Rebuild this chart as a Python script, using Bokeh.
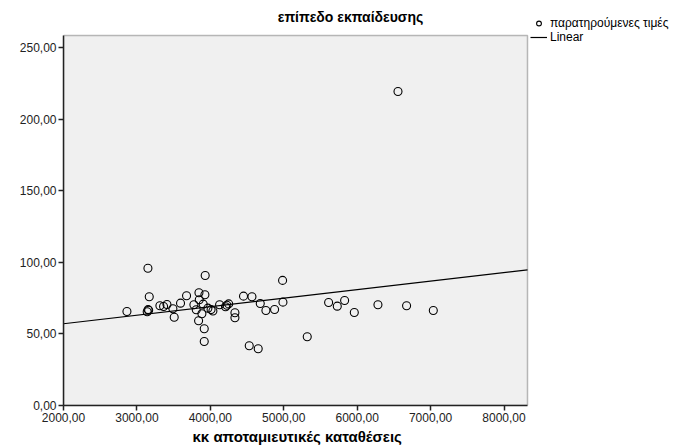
from bokeh.plotting import figure
from bokeh.models import (Range1d, FixedTicker, CustomJSTickFormatter, Legend,
                          LegendItem, BoxAnnotation, Label, Title)
from bokeh.embed import file_html
from bokeh.resources import INLINE

deposits = [2864, 3150, 3168, 3140, 3160, 3152, 3313, 3363, 3409, 3490,
            3508, 3594, 3676, 3776, 3808, 3845, 3849, 3903, 3930, 3926,
            3885, 3840, 3917, 3917, 3967, 4010, 4035, 4126, 4207, 4225,
            4250, 4335, 4335, 4452, 4567, 4530, 4652, 4680, 4757, 4875,
            4984, 4989, 5320, 5611, 5729, 5829, 5961, 6283, 6673, 7037,
            6556]
education = [65.7, 95.9, 76.0, 65.5, 66.5, 67.0, 69.7, 69.2, 70.6, 67.6,
             61.7, 71.5, 76.7, 70.4, 66.9, 78.8, 73.9, 70.8, 90.8, 77.4,
             64.1, 59.2, 53.6, 44.7, 68.0, 67.0, 66.0, 70.4, 69.0, 70.0,
             71.0, 64.8, 61.3, 76.4, 76.0, 41.7, 39.6, 71.3, 66.4, 67.1,
             87.4, 72.2, 48.0, 72.0, 69.4, 73.4, 65.0, 70.4, 69.7, 66.4,
             219.4]
# Linear fit line endpoints
fit_x = [2000, 8320]
fit_y = [57.1, 94.8]
x_ticks = [2000, 3000, 4000, 5000, 6000, 7000, 8000]
y_ticks = [0, 50, 100, 150, 200, 250]
# axis extents of the plotting box
x_lo, x_hi = 2000, 8320
y_lo, y_hi = 0, 258.5

FONT = "Liberation Sans"
W, H = 682, 447
BL, BB = 63, 42            # left / bottom borders (px)
BOX_W = 464                # plotting box width (px)
BOX_H = 370                # plotting box height (px)
FW, FH = W - BL, H - BB    # frame extends to canvas top/right (room for title & legend)

x_end = x_lo + (x_hi - x_lo) * FW / BOX_W
y_end = y_lo + (y_hi - y_lo) * FH / BOX_H

p = figure(width=W, height=H, output_backend="svg", toolbar_location=None,
           x_range=Range1d(x_lo, x_end), y_range=Range1d(y_lo, y_end),
           min_border_left=BL, min_border_right=0, min_border_top=0,
           min_border_bottom=BB)

p.background_fill_color = "white"
p.border_fill_color = "white"
p.outline_line_color = None
p.grid.visible = False

box = BoxAnnotation(left=x_lo, right=x_hi, bottom=y_lo, top=y_hi,
                    fill_color="#f0f0f0", fill_alpha=1.0,
                    line_color="#222222", line_width=1.5, level="underlay")
p.add_layout(box)

title = Label(x=350 - BL, y=FH - 16, x_units="screen", y_units="screen",
              text="επίπεδο εκπαίδευσης", text_align="center",
              text_baseline="middle", text_font=FONT, text_font_size="14px",
              text_font_style="bold", text_color="#000000")
p.add_layout(title)

fmt = CustomJSTickFormatter(code="return tick.toFixed(2).replace('.', ',');")
for ax, ticks, bnds in ((p.xaxis[0], x_ticks, (x_lo, x_hi)),
                        (p.yaxis[0], y_ticks, (y_lo, y_hi))):
    ax.ticker = FixedTicker(ticks=ticks)
    ax.formatter = fmt
    ax.bounds = bnds
    ax.axis_line_color = "#222222"
    ax.axis_line_width = 1.5
    ax.major_tick_line_color = "#222222"
    ax.major_tick_line_width = 1.5
    ax.major_tick_out = 5
    ax.major_tick_in = 0
    ax.minor_tick_line_color = None
    ax.major_label_text_font = FONT
    ax.major_label_text_font_size = "12px"
    ax.major_label_text_color = "#222222"
    ax.major_label_standoff = 2

xlabel = Title(text="κκ αποταμιευτικές καταθέσεις", align="left", offset=129,
               text_font=FONT, text_font_size="15px", text_font_style="bold",
               text_color="#000000", standoff=2)
p.add_layout(xlabel, "below")

line_r = p.line(fit_x, fit_y, line_color="#000000", line_width=1.2)
pts_r = p.scatter(deposits, education, marker="circle", size=8,
                  fill_color=None, line_color="#000000", line_width=1.1)

legend = Legend(items=[LegendItem(label="παρατηρούμενες τιμές", renderers=[pts_r]),
                       LegendItem(label="Linear", renderers=[line_r])],
                location=(BOX_W + 3, FH - 44))
legend.glyph_width = 17
legend.glyph_height = 12
legend.label_height = 12
legend.spacing = 0
legend.padding = 0
legend.margin = 0
legend.label_standoff = 3
legend.label_text_font = FONT
legend.label_text_font_size = "12px"
legend.label_text_line_height = 0.9
legend.label_text_color = "#000000"
legend.border_line_color = None
legend.background_fill_alpha = 0
p.add_layout(legend, "center")

open("out.html", "w").write(file_html(p, INLINE))
